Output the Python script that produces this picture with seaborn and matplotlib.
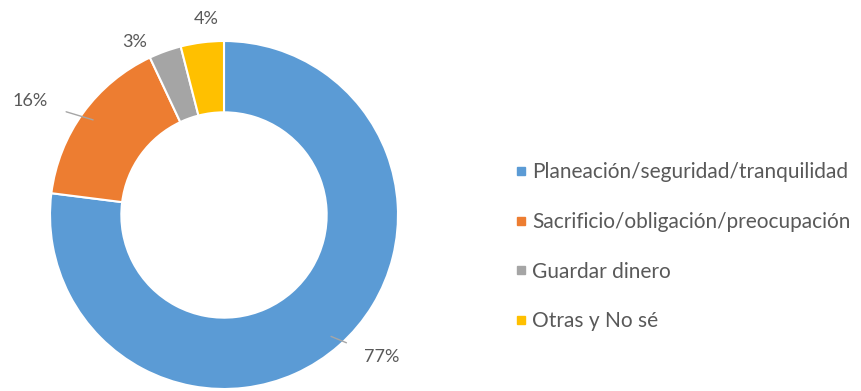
import numpy as np
import matplotlib
matplotlib.use("Agg")
import matplotlib.pyplot as plt
import seaborn as sns

categories = [
    "Planeación/seguridad/tranquilidad",
    "Sacrificio/obligación/preocupación",
    "Guardar dinero",
    "Otras y No sé",
]
values = [77, 16, 3, 4]
value_labels = ["77%", "16%", "3%", "4%"]

colors = ["#5B9BD5", "#ED7D31", "#A5A5A5", "#FFC000"]
# label placement (angle offset in degrees, radial distance) and leader line flag
label_angle = [6.5, 5.5, 7.5, -2.0]
label_dist = [1.22, 1.29, 1.12, 1.13]
leader = [True, True, False, False]

sns.set_theme(style="white")
plt.rcParams["font.family"] = ["Lato", "DejaVu Sans"]
text_color = "#595959"

fig = plt.figure(figsize=(8.62, 3.91), dpi=100)
R_px, cx, cy = 174, 224, 176
W, H = 862, 391
ax = fig.add_axes([(cx - R_px) / W, (cy - R_px) / H, 2 * R_px / W, 2 * R_px / H])
ax.set_aspect("equal")

wedges, _ = ax.pie(
    values,
    colors=colors,
    startangle=90,
    counterclock=False,
    radius=1.0,
    wedgeprops=dict(width=0.41, edgecolor="white", linewidth=1.5),
)
ax.set_xlim(-1, 1)
ax.set_ylim(-1, 1)

for w, lab, off, dist, ld in zip(wedges, value_labels, label_angle, label_dist, leader):
    mid = np.deg2rad((w.theta1 + w.theta2) / 2)
    ang = mid + np.deg2rad(off)
    tx, ty = dist * np.cos(ang), dist * np.sin(ang)
    if ld:
        px, py = 0.93 * np.cos(mid), 0.93 * np.sin(mid)
        ax.annotate(
            lab, xy=(px, py), xytext=(tx, ty), ha="center", va="center",
            fontsize=13, color=text_color, annotation_clip=False,
            arrowprops=dict(arrowstyle="-", color="#A6A6A6", lw=1.0,
                            shrinkA=11, shrinkB=0),
        )
    else:
        ax.text(tx, ty, lab, ha="center", va="center", fontsize=13,
                color=text_color, clip_on=False)

handles = [
    plt.Line2D([], [], marker="s", linestyle="", markersize=6,
               markerfacecolor=c, markeredgecolor=c)
    for c in colors
]
fig.legend(
    handles, categories, loc="upper left", bbox_to_anchor=(506 / W, 1 - 152 / H),
    frameon=False, fontsize=15, labelcolor=text_color,
    handlelength=0.45, handletextpad=0.3, labelspacing=1.42, borderpad=0,
)

fig.savefig("out.png", dpi=100, facecolor="white")
